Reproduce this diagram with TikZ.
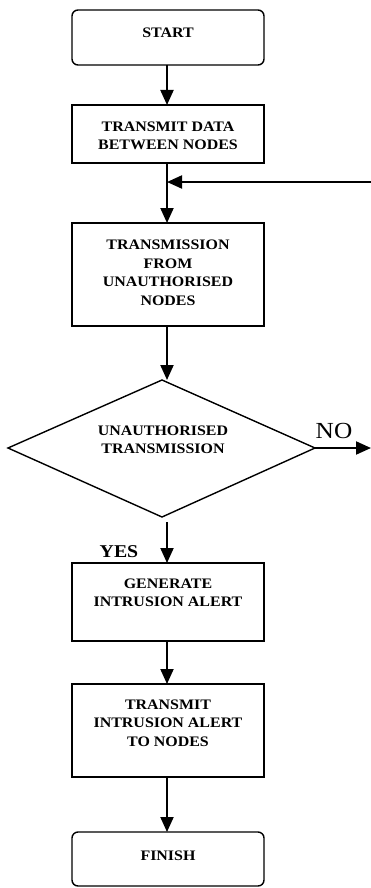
\documentclass[tikz,border=0pt]{standalone}
\usepackage{fontspec}
\setmainfont{Liberation Serif}[FakeStretch=1.1]
\usetikzlibrary{arrows.meta,shapes.geometric}
\begin{document}
\begin{tikzpicture}[x=1pt,y=-1pt,
  box/.style={draw,line width=1.4pt,inner sep=0pt},
  rbox/.style={draw,line width=1.4pt,rounded corners=6pt,inner sep=0pt},
  lbl/.style={font=\fontsize{14.5}{18.5}\selectfont\bfseries,align=center,inner sep=0pt},
  arr/.style={line width=2pt,-{Triangle[length=15pt,width=13pt]}},
  ln/.style={line width=2pt}]
\useasboundingbox (0,0) rectangle (371,888);
% shapes
\draw[rbox] (72,10) rectangle (264,65);
\draw[box] (72,105) rectangle (264,163);
\draw[box] (72,223) rectangle (264,326);
\draw[line width=1.4pt] (162,380) -- (315,448) -- (162,517) -- (8,448) -- cycle;
\draw[box] (72,563) rectangle (264,641);
\draw[box] (72,684) rectangle (264,777);
\draw[rbox] (72,832) rectangle (264,886);
% anchors
\coordinate (startB) at (167,65);
\coordinate (tdT) at (167,105);
\coordinate (tdB) at (167,163);
\coordinate (tfT) at (167,223);
\coordinate (tfB) at (167,326);
\coordinate (dT) at (167,380);
\coordinate (dR) at (315,448);
\coordinate (dB) at (167,522);
\coordinate (gT) at (167,563);
\coordinate (gB) at (167,641);
\coordinate (tiT) at (167,684);
\coordinate (tiB) at (167,777);
\coordinate (fT) at (167,832);
\coordinate (fbS) at (371,182);
\coordinate (fbE) at (167,182);
\coordinate (noE) at (371,448);
% texts
\node[lbl] (t1) at (168,33) {START};
\node[lbl] (t2) at (168,136) {TRANSMIT DATA\\BETWEEN NODES};
\node[lbl] (t3) at (168,273) {TRANSMISSION\\FROM\\UNAUTHORISED\\NODES};
\node[lbl] (t4) at (163,440) {UNAUTHORISED\\TRANSMISSION};
\node[lbl] (t5) at (168,593) {GENERATE\\INTRUSION ALERT};
\node[lbl] (t6) at (168,723) {TRANSMIT\\INTRUSION ALERT\\TO NODES};
\node[lbl] (t7) at (168,856) {FINISH};
\node[font=\fontsize{18}{20}\selectfont\bfseries,inner sep=0pt] (yes) at (119,552) {YES};
\node[font=\fontsize{23}{25}\selectfont,inner sep=0pt] (no) at (334,431) {NO};
% connectors
\draw[arr] (startB) -- (tdT);
\draw[arr] (tdB) -- (tfT);
\draw[arr] (fbS) -- (fbE);
\draw[arr] (tfB) -- (dT);
\draw[arr] (dR) -- (noE);
\draw[arr] (dB) -- (gT);
\draw[arr] (gB) -- (tiT);
\draw[arr] (tiB) -- (fT);
\end{tikzpicture}
\end{document}
